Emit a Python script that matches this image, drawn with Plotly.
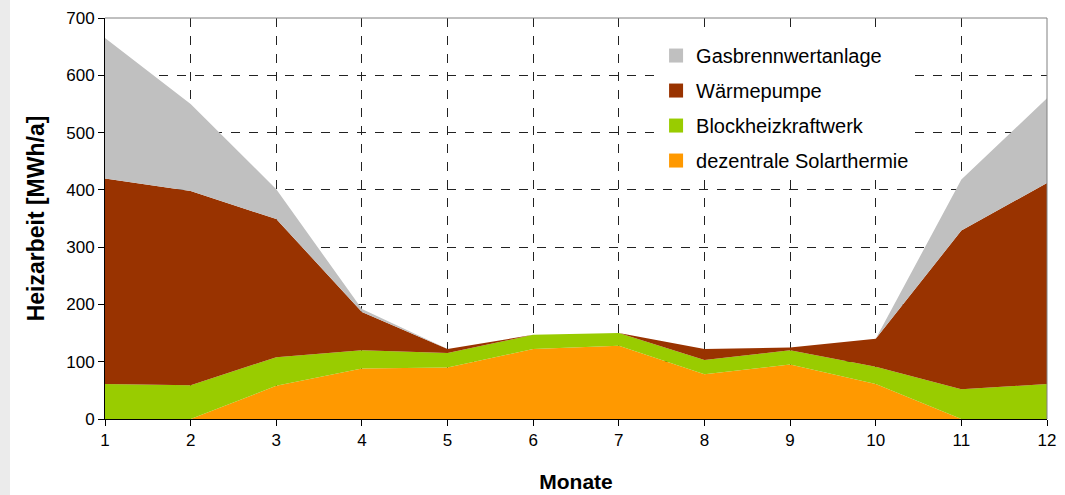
import plotly.graph_objects as go

months = [1, 2, 3, 4, 5, 6, 7, 8, 9, 10, 11, 12]
solar = [0, 0, 58, 88, 90, 122, 128, 78, 95, 61, 0, 0]
bhkw = [61, 59, 50, 32, 25, 25, 22, 25, 25, 30, 52, 61]
waermepumpe = [359, 339, 241, 67, 7, 0, 0, 19, 5, 49, 277, 351]
gas = [245, 152, 52, 5, 0, 0, 0, 0, 0, 0, 89, 148]

series = [
    ("dezentrale Solarthermie", solar, "#FF9900", 4),
    ("Blockheizkraftwerk", bhkw, "#99CC00", 3),
    ("Wärmepumpe", waermepumpe, "#993300", 2),
    ("Gasbrennwertanlage", gas, "#C0C0C0", 1),
]

fig = go.Figure()
for name, vals, col, rank in series:
    fig.add_trace(go.Scatter(
        x=months, y=vals, name=name, stackgroup="one", mode="none",
        fillcolor=col, showlegend=False,
    ))
for name, vals, col, rank in series:
    fig.add_trace(go.Scatter(
        x=[None], y=[None], name=name, mode="markers",
        marker=dict(symbol="square", size=14, color=col),
        legendgroup=name, legendrank=rank, showlegend=True,
    ))

font = "Liberation Sans, Arial, sans-serif"
fig.update_layout(
    width=1065, height=495,
    margin=dict(l=105, r=18, t=18, b=76),
    paper_bgcolor="white", plot_bgcolor="white",
    font=dict(family=font, color="black", size=17),
    showlegend=True,
    legend=dict(
        x=0.585, y=0.955, xanchor="left", yanchor="top",
        bgcolor="white", traceorder="grouped", tracegroupgap=6,
        font=dict(size=20, family=font), itemwidth=30,
    ),
    xaxis=dict(
        range=[1, 12], tickmode="array", tickvals=months,
        showgrid=True, gridcolor="#222222", griddash="dash", gridwidth=1,
        showline=True, linecolor="black", linewidth=1, mirror=False,
        ticks="outside", ticklen=6, tickcolor="black",
        title=dict(text="<b>Monate</b>", font=dict(size=21), standoff=24),
        tickfont=dict(size=17), zeroline=False, automargin=False,
    ),
    yaxis=dict(
        range=[0, 700], tickmode="array", tickvals=[0, 100, 200, 300, 400, 500, 600, 700],
        showgrid=True, gridcolor="#222222", griddash="dash", gridwidth=1,
        showline=True, linecolor="black", linewidth=1,
        ticks="outside", ticklen=6, tickcolor="black",
        title=dict(text="<b>Heizarbeit [MWh/a]</b>", font=dict(size=23), standoff=15),
        tickfont=dict(size=17), zeroline=False, automargin=False,
    ),
    shapes=[
        dict(type="line", xref="paper", yref="paper", x0=0, x1=1, y0=1, y1=1,
             line=dict(color="#808080", width=1), layer="above"),
        dict(type="line", xref="paper", yref="paper", x0=1, x1=1, y0=0, y1=1,
             line=dict(color="#808080", width=1), layer="above"),
        dict(type="rect", xref="paper", yref="paper", x0=-105/942, x1=-95/942,
             y0=-76/400, y1=1 + 18/400, fillcolor="#EBEBEB", line=dict(width=0),
             layer="below"),
    ],
)

fig.write_html("out.html", config={"displayModeBar": False},
               post_script="document.body.style.margin='0';")
